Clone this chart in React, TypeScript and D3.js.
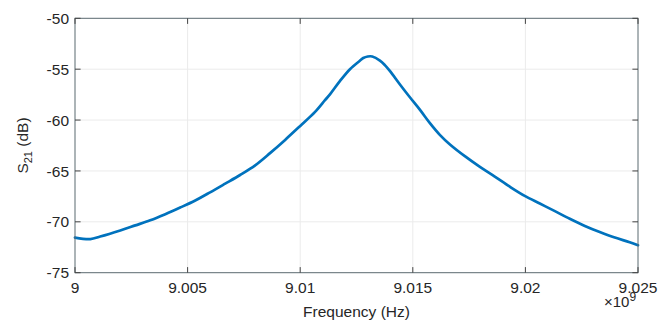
import React from "react";
import * as d3 from "d3";

const freqHz: number[] = [
  9.0e9, 9.00068e9, 9.00112e9, 9.00201e9, 9.00268e9, 9.00334e9, 9.00401e9, 9.00467e9,
  9.00534e9, 9.006e9, 9.00667e9, 9.00733e9, 9.008e9, 9.00866e9, 9.00933e9, 9.00999e9,
  9.01066e9, 9.0111e9, 9.01133e9, 9.01177e9, 9.01221e9, 9.01266e9, 9.0128e9, 9.013e9,
  9.0132e9, 9.01354e9, 9.01376e9, 9.01399e9, 9.01443e9, 9.01487e9, 9.01532e9, 9.01576e9,
  9.0162e9, 9.01665e9, 9.01731e9, 9.01798e9, 9.01864e9, 9.01931e9, 9.01997e9, 9.02064e9,
  9.02131e9, 9.02197e9, 9.02264e9, 9.0233e9, 9.02397e9, 9.02463e9, 9.025e9,
];
const s21dB: number[] = [
  -71.55, -71.7, -71.45, -70.85, -70.35, -69.85, -69.25, -68.6,
  -67.9, -67.1, -66.25, -65.4, -64.45, -63.25, -61.95, -60.6,
  -59.2, -58.05, -57.45, -56.15, -55.0, -54.15, -53.9, -53.75,
  -53.75, -54.15, -54.6, -55.2, -56.5, -57.76, -59.0, -60.3,
  -61.45, -62.4, -63.55, -64.6, -65.55, -66.55, -67.45, -68.2,
  -68.95, -69.7, -70.4, -71.0, -71.55, -72.0, -72.3,
];
const xTicks: number[] = [9.0e9, 9.005e9, 9.01e9, 9.015e9, 9.02e9, 9.025e9];
const xTickLabels: string[] = ["9", "9.005", "9.01", "9.015", "9.02", "9.025"];
const yTicks: number[] = [-75, -70, -65, -60, -55, -50];

const W = 670;
const H = 323;
const L = 75;
const R = 638;
const T = 18.3;
const B = 272.7;
const FONT = "'Liberation Sans', Arial, Helvetica, sans-serif";
const TXT = "#262626";

export default function App() {
  const x = d3.scaleLinear().domain([9.0e9, 9.025e9]).range([L, R]);
  const y = d3.scaleLinear().domain([-75, -50]).range([B, T]);
  const pts: [number, number][] = freqHz.map((f, i) => [f, s21dB[i]]);
  const line = d3
    .line<[number, number]>()
    .x((d) => x(d[0]))
    .y((d) => y(d[1]))
    .curve(d3.curveCatmullRom.alpha(0.5));
  const tk = 5.6;
  return (
    <svg
      width={W}
      height={H}
      style={{ position: "absolute", left: 0, top: 0, background: "#fff" }}
      fontFamily={FONT}
    >
      <rect x={0} y={0} width={W} height={H} fill="#fff" />
      {xTicks.slice(1, -1).map((t, i) => (
        <line key={"gx" + i} x1={x(t)} x2={x(t)} y1={T} y2={B} stroke="#ebebeb" strokeWidth={1} />
      ))}
      {yTicks.slice(1, -1).map((t, i) => (
        <line key={"gy" + i} x1={L} x2={R} y1={y(t)} y2={y(t)} stroke="#ebebeb" strokeWidth={1} />
      ))}
      <path d={line(pts) || ""} fill="none" stroke="#0072BD" strokeWidth={2.7} strokeLinejoin="round" strokeLinecap="round" />
      <rect x={L} y={T} width={R - L} height={B - T} fill="none" stroke="#5a6a70" strokeWidth={1} />
      {xTicks.map((t, i) => (
        <g key={"xt" + i}>
          <line x1={x(t)} x2={x(t)} y1={B} y2={B - tk} stroke="#444" strokeWidth={1} />
          <line x1={x(t)} x2={x(t)} y1={T} y2={T + tk} stroke="#444" strokeWidth={1} />
          <text x={x(t)} y={292.8} textAnchor="middle" fontSize={15.5} fill={TXT}>
            {xTickLabels[i]}
          </text>
        </g>
      ))}
      {yTicks.map((t, i) => (
        <g key={"yt" + i}>
          <line x1={L} x2={L + tk} y1={y(t)} y2={y(t)} stroke="#444" strokeWidth={1} />
          <line x1={R} x2={R - tk} y1={y(t)} y2={y(t)} stroke="#444" strokeWidth={1} />
          <text x={69} y={y(t) + 5.6} textAnchor="end" fontSize={15.5} fill={TXT}>
            {t}
          </text>
        </g>
      ))}
      <text x={(L + R) / 2} y={316.7} textAnchor="middle" fontSize={15.5} fill={TXT}>
        Frequency (Hz)
      </text>
      <text x={604} y={307} fontSize={15} fill={TXT}>
        {"\u00d710"}
        <tspan fontSize={12} dy={-6}>9</tspan>
      </text>
      <text
        transform={`translate(28.3,${(T + B) / 2}) rotate(-90)`}
        textAnchor="middle"
        fontSize={15.5}
        fill={TXT}
      >
        S<tspan fontSize={11} dy={4}>21</tspan>
        <tspan dy={-4}> (dB)</tspan>
      </text>
    </svg>
  );
}
